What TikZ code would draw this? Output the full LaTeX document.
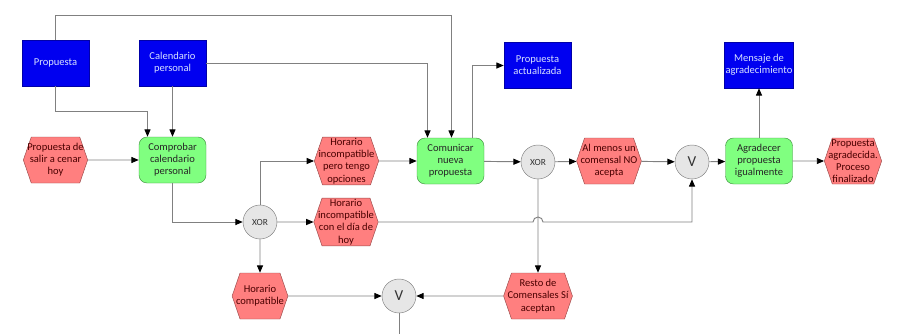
\documentclass[tikz,border=0pt]{standalone}
\usepackage{fontspec}
\setmainfont{Carlito}
\usetikzlibrary{arrows.meta,positioning,calc,shapes.symbols}
\definecolor{datablue}{HTML}{0000F0}
\definecolor{datatext}{HTML}{D8E2FF}
\definecolor{eventred}{HTML}{FF7F7F}
\definecolor{eventline}{HTML}{9A4A4A}
\definecolor{eventtext}{HTML}{4A0000}
\definecolor{funcgreen}{HTML}{80FF80}
\definecolor{funcline}{HTML}{3F8F3F}
\definecolor{opgrey}{HTML}{E6E6E6}
\definecolor{flowgrey}{HTML}{808080}

\begin{document}
\begin{tikzpicture}[x=0.03cm,y={(0,-0.03cm)},
  txt/.style={align=center,font=\fontsize{9}{10.4}\selectfont,inner sep=1pt},
  data/.style={txt,rectangle,draw=datablue!70!black,fill=datablue,text=datatext,minimum width=2.01cm,minimum height=1.38cm},
  event/.style={txt,signal,signal to=west and east,signal pointer angle=142,draw=eventline,fill=eventred,text=eventtext,inner xsep=-0.12cm,minimum width=1.53cm,minimum height=1.38cm},
  func/.style={txt,rectangle,rounded corners=0.24cm,draw=funcline,fill=funcgreen,text=black!85,minimum width=2.01cm,minimum height=1.38cm},
  op/.style={circle,draw=flowgrey,fill=opgrey,minimum size=1.02cm,inner sep=0pt,text=black!80},
  flow/.style={draw=flowgrey,line width=0.8pt,-{Triangle[length=0.22cm,width=0.18cm,color=black]}}]
  \useasboundingbox (0,0) rectangle (900,334);

  % Data objects
  \node[data] (prop) at (55.5,63) {Propuesta};
  \node[data] (cal) at (172.5,63) {Calendario\\personal};
  \node[data] (pact) at (537.5,65.5) {Propuesta\\actualizada};
  \node[data] (msg) at (759,65) {Mensaje de\\agradecimiento};

  % Events
  \node[event] (start) at (55.5,160) {Propuesta de\\salir a cenar\\hoy};
  \node[event] (hpero) at (346.5,161) {Horario\\incompatible\\pero tengo\\opciones};
  \node[event] (nadie) at (609,161) {Al menos un\\comensal NO\\acepta};
  \node[event] (fin) at (853,161) {Propuesta\\agradecida.\\Proceso\\finalizado};
  \node[event] (hhoy) at (346,222) {Horario\\incompatible\\con el día de\\hoy};
  \node[event] (hcomp) at (260,296) {Horario\\compatible};
  \node[event] (resto) at (538,296) {Resto de\\Comensales Sí\\aceptan};

  % Functions
  \node[func] (comp) at (172.5,160) {Comprobar\\calendario\\personal};
  \node[func] (com) at (450.5,161) {Comunicar\\nueva\\propuesta};
  \node[func] (agra) at (759,161) {Agradecer\\propuesta\\igualmente};

  % Operators
  \node[op,font=\fontsize{8}{9}\selectfont] (xorA) at (260,222) {XOR};
  \node[op,font=\fontsize{8}{9}\selectfont] (xorB) at (538,162) {XOR};
  \node[op,font=\fontsize{13}{14}\selectfont] (orA) at (692,162) {V};
  \node[op,font=\fontsize{13}{14}\selectfont] (orB) at (399,296) {V};
  \coordinate (exit) at (399,334);

  % Inputs from data
  \draw[flow] (prop.north) -- ++(0,-24) -| ($(com.north)+(1,0)$);
  \draw[flow] (prop.south) -- ++(0,25) -| ($(comp.north)+(-25,0)$);
  \draw[flow] (cal.south) -- (comp.north);
  \draw[flow] (cal.east) -| ($(com.north)+(-23,0)$);

  % Main flow
  \draw[flow] (start) -- (comp);
  \draw[flow] (comp.south) |- (xorA.west);
  \draw[flow] (xorA.north) |- (hpero.west);
  \draw[flow] (xorA) -- (hhoy);
  \draw[flow] (xorA) -- (hcomp);
  \draw[flow] (hpero) -- (com);
  \draw[flow] ($(com.north)+(22,0)$) |- (pact.west);
  \draw[flow] (com) -- (xorB);
  \draw[flow] (xorB) -- (nadie);
  \draw[flow] (nadie) -- (orA);
  \draw[flow] (orA) -- (agra);
  \draw[flow] (agra) -- (msg);
  \draw[flow] (agra) -- (fin);
  \draw[flow] (hhoy.east) -- ($(xorB |- hhoy.east)+(-5,0)$)
    arc[start angle=180,end angle=0,radius=0.15cm] -| (orA.south);
  \draw[flow] (xorB) -- (resto);
  \draw[flow] (hcomp) -- (orB);
  \draw[flow] (resto) -- (orB);
  \draw[draw=flowgrey,line width=0.8pt] (orB) -- (exit);
\end{tikzpicture}
\end{document}
